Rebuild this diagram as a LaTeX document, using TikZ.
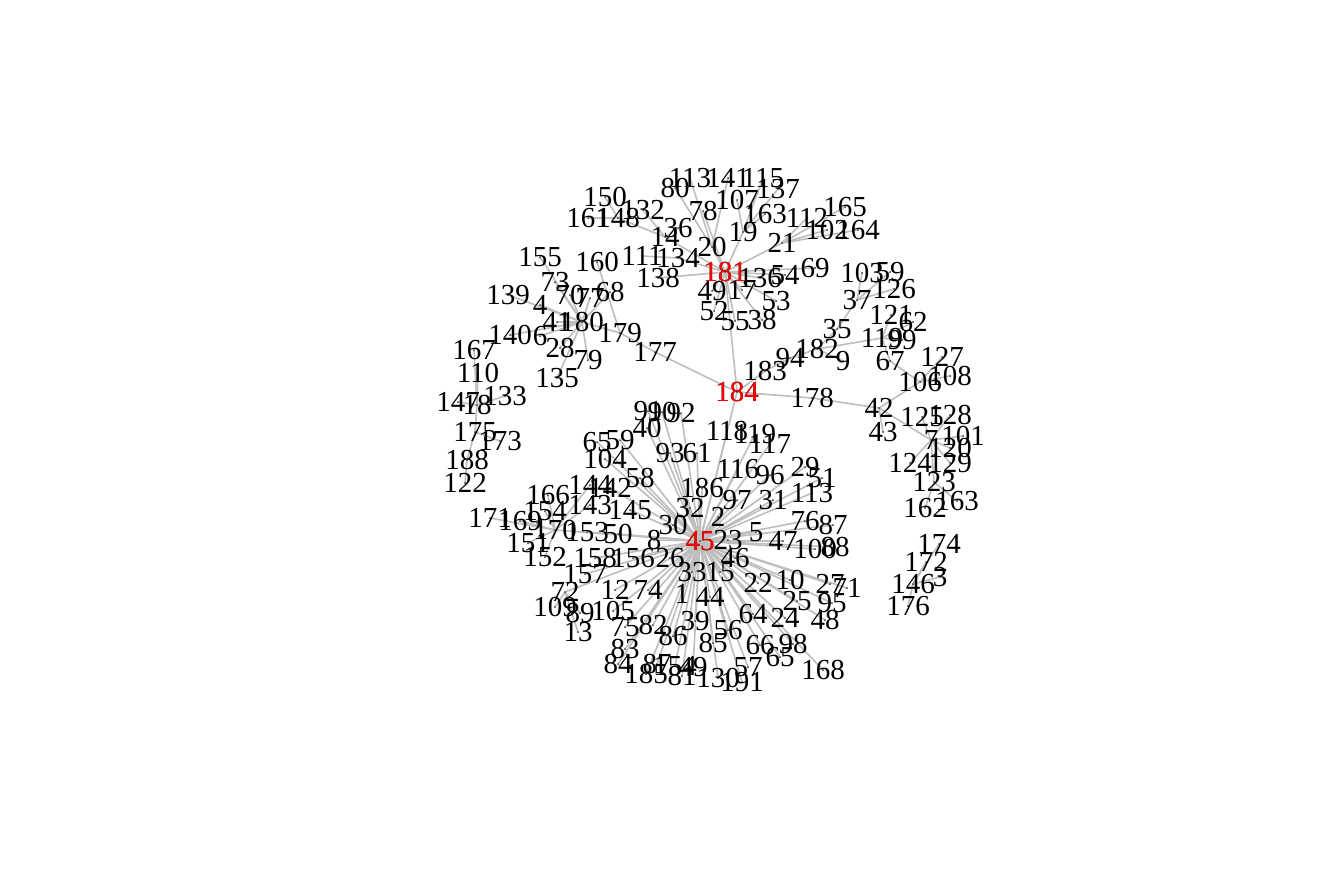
\documentclass[tikz,border=0pt]{standalone}
\usepackage{fontspec}
\setmainfont{Liberation Serif}
\definecolor{edgegray}{RGB}{190,190,190}
\begin{document}
\begin{tikzpicture}[x=1pt,y=-1pt,
  edge/.style={draw=edgegray,line width=1.6pt},
  vdot/.style={fill=black!75,draw=none},
  lbl/.style={font=\fontsize{29}{29}\selectfont,inner sep=0pt,text=black},
  hublbl/.style={lbl,text=red}]
\useasboundingbox (0,0) rectangle (1344,895);
\fill[white] (0,0) rectangle (1344,895);
% vertices: id/x/y/label
\def\vlist{184/737/392/184,181/725/272/181,45/700/541/45,
20/712/247/20,134/678/258/134,111/642/256/111,138/658/278/138,14/665/237/14,36/678/228/36,132/643/210/132,148/618/218/148,161/588/218/161,150/605/197/150,80/675/188/80,113t/690/178/113,141/728/178/141,115/763/178/115,78/703/211/78,107/737/200/107,137/778/189/137,163/765/214/163,19/743/232/19,21/782/243/21,112/807/218/112,165/845/207/165,102/827/230/102,164/858/230/164,136/760/278/136,54/785/275/54,69/815/268/69,49/712/291/49,17/742/290/17,53/776/301/53,52/714/311/52,55/735/321/55,38/762/320/38,
180/582/322/180,41/557/322/41,155/540/257/155,160/597/262/160,73/555/282/73,70/570/295/70,77/590/298/77,68/610/292/68,139/508/295/139,4/540/305/4,140/510/335/140,6/540/336/6,28/560/348/28,79/588/360/79,135/557/378/135,179/620/333/179,177/655/352/177,
18/477/405/18,147/458/402/147,167/474/350/167,110/478/373/110,133/505/396/133,175/475/432/175,173/500/441/173,188/467/460/188,122/465/483/122,
91/648/411/91,90/662/412/90,92/681/413/92,40/647/428/40,65/597/442/65,59/620/440/59,104/605/459/104,58/640/478/58,93/670/453/93,61/697/453/61,118/727/431/118,119/755/434/119,117/770/444/117,116/738/469/116,96/770/475/96,29/805/467/29,51/822/478/51,31/773/500/31,113/812/493/113,76/805/521/76,87/833/525/87,47/783/541/47,100/815/549/100,88/835/547/88,5/756/532/5,23/728/540/23,46/735/558/46,2/718/517/2,97/737/500/97,186/702/488/186,32/690/508/32,30/673/525/30,8/654/540/8,145/630/510/145,143/590/505/143,144/590/485/144,142/610/488/142,166/548/495/166,154/545/511/154,171/490/518/171,169/520/521/169,170/555/530/170,151/528/543/151,152/545/557/152,153/587/532/153,50/618/534/50,158/595/558/158,156/633/558/156,26/670/558/26,157/585/574/157,72/565/592/72,12/615/590/12,74/648/590/74,33/692/572/33,15/720/572/15,1/682/594/1,44/710/597/44,22/758/583/22,10/790/580/10,27/830/584/27,71/847/588/71,25/797/601/25,95/832/603/95,48/825/620/48,24/785/618/24,64/753/614/64,56/728/630/56,85/713/643/85,39/695/621/39,86/673/636/86,82/653/625/82,75/625/627/75,105/613/611/105,109/555/607/109,89/580/613/89,13/578/632/13,83/625/649/83,84/618/664/84,185/646/674/185,87b/657/664/87,154b/675/666/154,81/682/676/81,49b/693/667/49,130/718/678/130,191/742/682/191,57/748/667/57,66/760/645/66,98/793/644/98,65b/780/657/65,168/823/670/168,
183/765/371/183,94/790/358/94,182/817/349/182,35/837/329/35,9/843/361/9,178/812/398/178,37/857/300/37,103/862/273/103,59b/890/272/59,126/894/289/126,121/891/315/121,62/913/322/62,119b/882/338/119,99/902/340/99,67/890/361/67,127/942/357/127,108/950/376/108,106/920/382/106,42/879/408/42,43/883/432/43,125/922/417/125,128/950/415/128,7/931/440/7,101/963/436/101,120/950/448/120,124/910/463/124,129/950/463/129,123/934/482/123,162/925/508/162,163b/957/501/163,174/939/544/174,172/926/562/172,3/940/577/3,146/913/584/146,176/908/606/176}
\foreach \i/\x/\y/\t in \vlist {\coordinate (v\i) at (\x,\y);}
% edges
\foreach \a/\b in {184/181,184/45,184/177,184/183,184/178,177/179,179/180,179/160,
180/155,180/73,180/70,180/77,180/68,180/139,180/4,180/41,180/140,180/6,180/28,180/79,180/135,
181/20,181/134,181/138,181/14,181/78,181/19,181/21,181/136,181/54,181/69,181/49,181/17,181/53,181/52,181/55,181/38,
134/111,14/36,14/132,14/148,148/161,148/150,20/80,20/113t,20/141,19/107,19/163,19/137,19/115,21/112,21/102,21/164,21/165,
183/94,94/182,182/35,182/9,182/119b,35/37,37/103,37/59b,37/126,119b/121,119b/62,119b/99,119b/67,67/106,
178/42,42/43,42/106,106/127,106/108,42/7,7/125,7/128,7/101,7/120,7/124,7/129,7/123,123/162,123/163b,
146/174,146/172,146/3,146/176,
18/167,18/110,18/147,18/133,18/175,175/173,175/188,188/122,
45/170,170/166,170/154,170/169,170/171,170/151,170/152,170/144,170/143,45/72,72/109,72/89,72/13,
45/153,45/50,45/8,45/30,45/32,45/2,45/97,45/186,45/145,45/142,45/58,45/104,45/65,45/59,45/40,45/91,45/90,45/92,45/93,45/61,45/118,45/119,45/117,45/116,45/96,45/29,45/51,45/31,45/113,45/76,45/87,45/5,45/47,45/100,45/88,45/23,45/46,45/22,45/10,45/27,45/71,45/25,45/95,45/48,45/24,45/64,45/56,45/85,45/39,45/86,45/82,45/75,45/105,45/12,45/74,45/157,45/158,45/156,45/26,45/33,45/15,45/1,45/44,45/83,45/84,45/185,45/87b,45/154b,45/81,45/49b,45/130,45/191,45/57,45/66,45/98,45/65b,45/168}
  {\draw[edge] (v\a) -- (v\b);}
% vertex dots
\foreach \i/\x/\y/\t in \vlist {\fill[vdot] (v\i) circle (1pt);}
% labels
\foreach \i/\x/\y/\t in \vlist {\node[lbl] (l\i) at (v\i) {\t};}
\node[hublbl] (h184) at (v184) {184};
\node[hublbl] (h181) at (v181) {181};
\node[hublbl] (h45) at (v45) {45};
\end{tikzpicture}
\end{document}
